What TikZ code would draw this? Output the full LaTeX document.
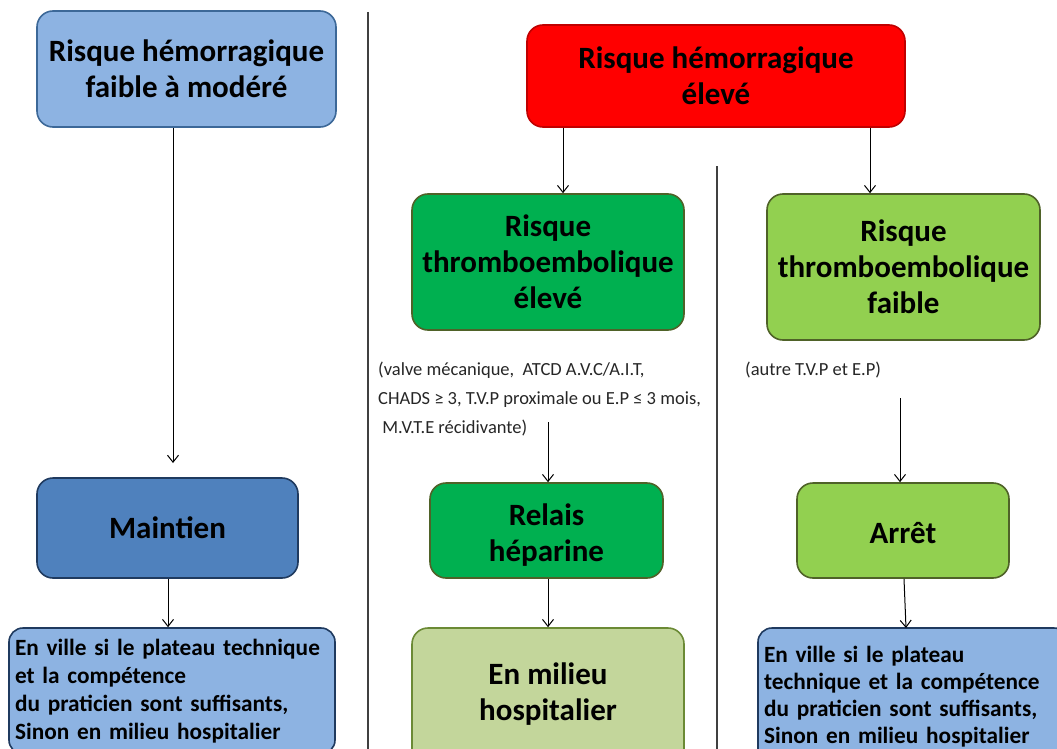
\documentclass[tikz,border=0pt]{standalone}
\usepackage{fontspec}
\setmainfont{Carlito}
\usetikzlibrary{arrows.meta}
\definecolor{lblue}{HTML}{8DB3E2}
\definecolor{lblueb}{HTML}{3C6898}
\definecolor{navyb}{HTML}{1F3A5F}
\definecolor{mblue}{HTML}{4F81BD}
\definecolor{redb}{HTML}{C00000}
\definecolor{dgreen}{HTML}{00B050}
\definecolor{greenb}{HTML}{4F6228}
\definecolor{lgreen}{HTML}{92D050}
\definecolor{pgreen}{HTML}{C3D69B}
\definecolor{pgreenb}{HTML}{6B8A35}
\definecolor{sep}{HTML}{404040}
\begin{document}
\begin{tikzpicture}[x=1pt,y=-1pt,
  box/.style={draw,rounded corners=16pt,line width=1.6pt,align=center,inner sep=0pt,
    font=\fontsize{31}{36}\selectfont\bfseries},
  boxtext/.style={align=center,inner sep=0pt,font=\fontsize{31}{36}\selectfont\bfseries},
  lbox/.style={draw,rounded corners=14pt,line width=1.6pt,align=left,inner sep=0pt,
    font=\fontsize{23.3}{28}\selectfont\bfseries},
  arr/.style={-{Straight Barb[length=7pt,width=11pt]},line width=1pt,black},
  note/.style={font=\fontsize{18.5}{29}\selectfont,align=left,anchor=north west,inner sep=0pt,text=black!85},
  sepline/.style={line width=1.8pt,sep}]
\useasboundingbox (0,0) rectangle (1057,749);
\clip (0,0) rectangle (1057,749);
% separators
\coordinate (s1a) at (368,12);
\coordinate (s1b) at (368,749);
\coordinate (s2a) at (717,166);
\coordinate (s2b) at (717,749);
\draw[sepline] (s1a) -- (s1b);
\draw[sepline] (s2a) -- (s2b);
% boxes
\node[box,fill=lblue,draw=lblueb,minimum width=299pt,minimum height=116pt] (hfm) at (186.5,69) {Risque hémorragique\\faible à modéré};
\node[box,fill=red,draw=redb,minimum width=378pt,minimum height=102pt] (he) at (716,76) {Risque hémorragique\\élevé};
\node[box,fill=dgreen,draw=greenb,minimum width=272pt,minimum height=136pt] (tee) at (548,262) {Risque\\thromboembolique\\élevé};
\node[box,fill=lgreen,draw=greenb,minimum width=273pt,minimum height=146pt] (tef) at (903.5,267) {Risque\\thromboembolique\\faible};
\node[box,fill=mblue,draw=navyb,minimum width=261pt,minimum height=100pt] (mt) at (167.5,528) {Maintien};
\node[box,fill=dgreen,draw=greenb,minimum width=233pt,minimum height=95pt] (rh) at (546.5,530.5) {};
\node[boxtext] (rht) at (546.5,535) {Relais\\héparine};
\node[box,fill=lgreen,draw=greenb,minimum width=212pt,minimum height=95pt] (ar) at (903,530.5) {};
\node[boxtext] (art) at (903,533) {Arrêt};
\node[lbox,fill=lblue,draw=navyb,minimum width=326pt,minimum height=126pt,text width=314pt] (v1) at (172,691) {En ville si le plateau technique\\et la compétence\\du praticien sont suffisants,\\Sinon en milieu hospitalier};
\node[box,fill=pgreen,draw=pgreenb,minimum width=272pt,minimum height=140pt] (mh) at (548,698) {};
\node[boxtext] (mht) at (548,694) {En milieu\\hospitalier};
\node[lbox,fill=lblue,draw=navyb,minimum width=310pt,minimum height=137pt,text width=298pt,font=\fontsize{23.3}{27}\selectfont\bfseries] (v2) at (913,696.5) {En ville si le plateau\\technique et la compétence\\du praticien sont suffisants,\\Sinon en milieu hospitalier};
% notes
\node[note] (n1) at (378,362) {(valve mécanique,\ \ ATCD A.V.C/A.I.T,\\CHADS ≥ 3, T.V.P proximale ou E.P ≤ 3 mois,\\\ M.V.T.E récidivante)};
\node[note] (n2) at (745,362) {(autre T.V.P et E.P)};
\coordinate (n1e) at (548,422);
\coordinate (n2e) at (900,398);
\coordinate (hfme) at (173,463);
% arrows
\draw[arr] (hfm.south -| hfme) -- (hfme);
\draw[arr] (he.south -| 563,0) -- (tee.north -| 563,0);
\draw[arr] (he.south -| 870,0) -- (tef.north -| 870,0);
\draw[arr] (n1e) -- (rh.north -| n1e);
\draw[arr] (n2e) -- (ar.north -| n2e);
\draw[arr] (mt.south -| 168,0) -- (v1.north -| 168,0);
\draw[arr] (rh.south -| 548,0) -- (mh.north -| 548,0);
\draw[arr] (ar.south -| 904,0) -- (906,628);
\end{tikzpicture}
\end{document}
